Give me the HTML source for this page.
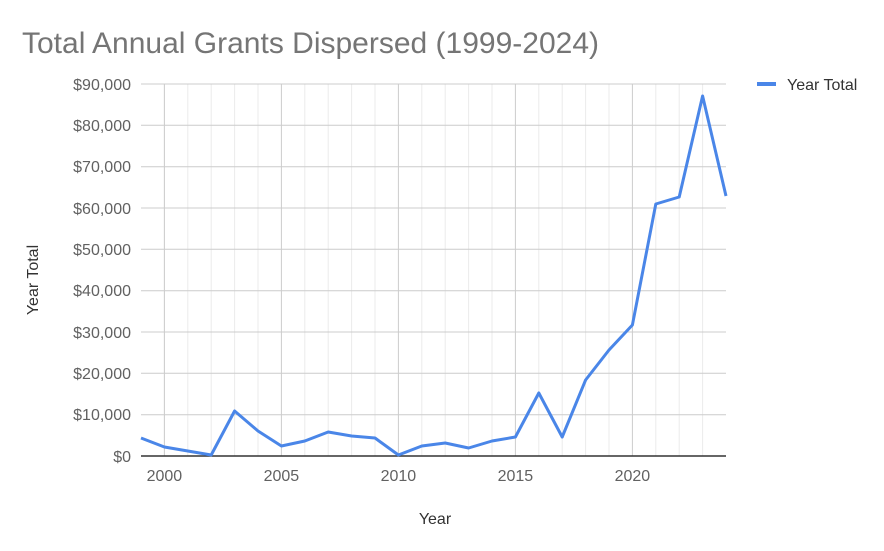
<!DOCTYPE html>
<html><head><style>
body{margin:0;background:#fff;}
svg text{font-family:"Liberation Sans",sans-serif;}
</style></head><body>
<svg width="884" height="546" xmlns="http://www.w3.org/2000/svg">
<rect width="884" height="546" fill="#fff"/>
<text x="22" y="53" font-size="30" fill="#757575">Total Annual Grants Dispersed (1999-2024)</text>
<g stroke="#ebebeb" stroke-width="1">
<line x1="164.4" y1="84" x2="164.4" y2="456"/><line x1="187.8" y1="84" x2="187.8" y2="456"/><line x1="211.2" y1="84" x2="211.2" y2="456"/><line x1="234.6" y1="84" x2="234.6" y2="456"/><line x1="258" y1="84" x2="258" y2="456"/>
<line x1="304.8" y1="84" x2="304.8" y2="456"/><line x1="328.2" y1="84" x2="328.2" y2="456"/><line x1="351.6" y1="84" x2="351.6" y2="456"/><line x1="375" y1="84" x2="375" y2="456"/>
<line x1="421.8" y1="84" x2="421.8" y2="456"/><line x1="445.2" y1="84" x2="445.2" y2="456"/><line x1="468.6" y1="84" x2="468.6" y2="456"/><line x1="492" y1="84" x2="492" y2="456"/>
<line x1="538.8" y1="84" x2="538.8" y2="456"/><line x1="562.2" y1="84" x2="562.2" y2="456"/><line x1="585.6" y1="84" x2="585.6" y2="456"/><line x1="609" y1="84" x2="609" y2="456"/>
<line x1="655.8" y1="84" x2="655.8" y2="456"/><line x1="679.2" y1="84" x2="679.2" y2="456"/><line x1="702.6" y1="84" x2="702.6" y2="456"/>
</g>
<g stroke="#cccccc" stroke-width="1">
<line x1="164.4" y1="84" x2="164.4" y2="456"/><line x1="281.4" y1="84" x2="281.4" y2="456"/><line x1="398.4" y1="84" x2="398.4" y2="456"/><line x1="515.4" y1="84" x2="515.4" y2="456"/><line x1="632.4" y1="84" x2="632.4" y2="456"/>
<line x1="141" y1="84" x2="726" y2="84"/><line x1="141" y1="125.3" x2="726" y2="125.3"/><line x1="141" y1="166.7" x2="726" y2="166.7"/><line x1="141" y1="208" x2="726" y2="208"/><line x1="141" y1="249.3" x2="726" y2="249.3"/><line x1="141" y1="290.7" x2="726" y2="290.7"/><line x1="141" y1="332" x2="726" y2="332"/><line x1="141" y1="373.3" x2="726" y2="373.3"/><line x1="141" y1="414.7" x2="726" y2="414.7"/>
</g>
<line x1="141" y1="456" x2="726" y2="456" stroke="#333" stroke-width="1.5"/>
<g font-size="16" fill="#616161" text-anchor="end">
<text x="131" y="90">$90,000</text><text x="131" y="131">$80,000</text><text x="131" y="172">$70,000</text><text x="131" y="214">$60,000</text><text x="131" y="255">$50,000</text><text x="131" y="296">$40,000</text><text x="131" y="338">$30,000</text><text x="131" y="379">$20,000</text><text x="131" y="420">$10,000</text><text x="131" y="462">$0</text>
</g>
<g font-size="16" fill="#616161" text-anchor="middle">
<text x="164.4" y="481">2000</text><text x="281.4" y="481">2005</text><text x="398.4" y="481">2010</text><text x="515.4" y="481">2015</text><text x="632.4" y="481">2020</text>
</g>
<text x="435" y="524" font-size="16" fill="#333" text-anchor="middle">Year</text>
<text x="38" y="280" font-size="16" fill="#333" text-anchor="middle" transform="rotate(-90 38 280)">Year Total</text>
<polyline fill="none" stroke="#4a86e8" stroke-width="3" stroke-linejoin="round" points="141,438 164.4,447 187.8,451 211.2,455 234.6,411 258,431 281.4,446 304.8,441 328.2,432 351.6,436 375,438 398.4,455 421.8,446 445.2,443 468.6,448 492,441 515.4,437 538.8,393 562.2,437 585.6,380 609,350 632.4,325 655.8,204 679.2,197 702.6,96 726,196"/>
<line x1="757" y1="84" x2="776" y2="84" stroke="#4a86e8" stroke-width="4"/>
<text x="787" y="90" font-size="16" fill="#333">Year Total</text>
</svg>
</body></html>
